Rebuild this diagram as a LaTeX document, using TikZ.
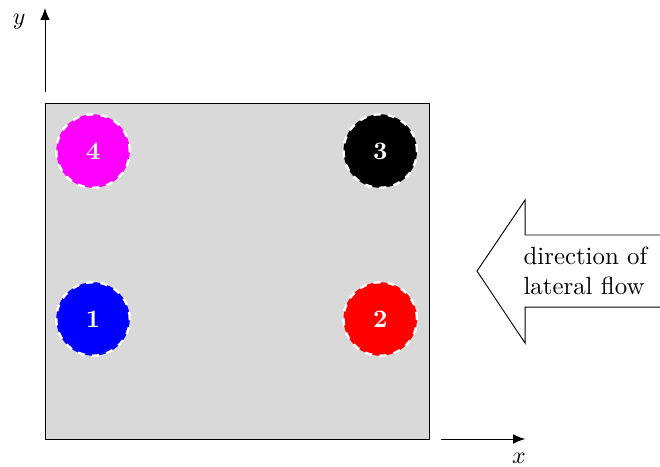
\documentclass[tikz,border=0pt]{standalone}
\usetikzlibrary{arrows.meta}
\definecolor{wellmagenta}{RGB}{255,0,255}
\begin{document}
\begin{tikzpicture}[>={Latex[length=5pt,width=4pt]}, well/.style={circle, minimum size=1.08cm, draw=white, dashed, line width=1pt, text=white, font=\bfseries\fontsize{10.5}{12}\selectfont}]
        \useasboundingbox (-0.662,-0.397) rectangle (9.044,6.456);
        % domain
        \draw[fill=gray!30] (0,0) rectangle (5.66,4.94);

        % wells
        \node[well, fill=blue] (w1) at (0.706,1.765) {1};
        \node[well, fill=red] (w2) at (4.93,1.765) {2};
        \node[well, fill=black] (w3) at (4.93,4.235) {3};
        \node[well, fill=wellmagenta] (w4) at (0.706,4.235) {4};

        % axes
        \coordinate (y0) at (0,5.103);
        \coordinate (y1) at (0,6.338);
        \coordinate (x0) at (5.824,0);
        \coordinate (x1) at (7.06,0);
        \draw[->] (y0) -- (y1);
        \draw[->] (x0) -- (x1);
        \node (ylab) at (-0.38,6.14) {$y$};
        \node (xlab) at (6.97,-0.28) {$x$};

        % lateral flow
        \draw (9.3,3.0) -- (7.06,3.0) -- (7.06,3.515) -- (6.353,2.47) -- (7.06,1.41) -- (7.06,1.94) -- (9.3,1.94);
        \node[anchor=west, align=left, inner sep=0pt, font=\fontsize{10.4}{12.3}\selectfont] (flow) at (7.03,2.47) {direction of\\lateral flow};
    \end{tikzpicture}
\end{document}
